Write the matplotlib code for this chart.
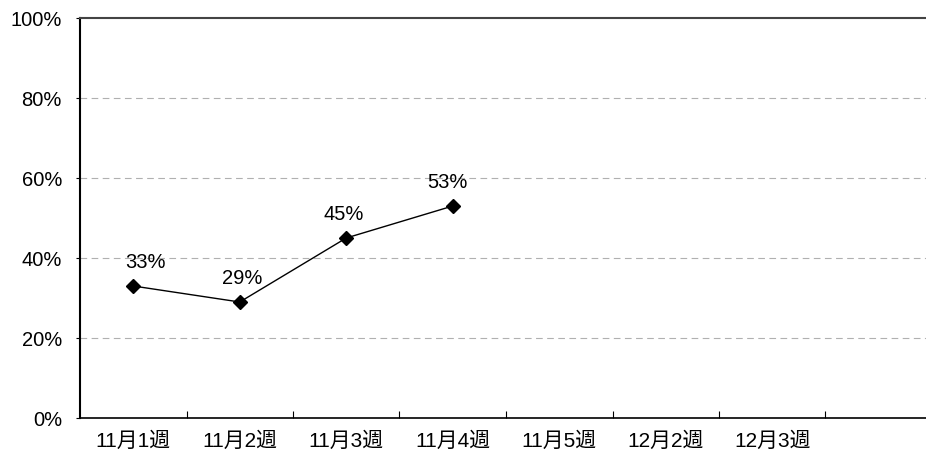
import numpy as np
import matplotlib.pyplot as plt
from matplotlib.ticker import FixedLocator

plt.rcParams['font.family'] = ['Liberation Sans', 'Noto Sans CJK JP']

weeks = ['11月1週', '11月2週', '11月3週', '11月4週', '11月5週', '12月2週', '12月3週']
rates = [33, 29, 45, 53]
yticks = [0, 20, 40, 60, 80, 100]

# label nudges (points), as in the original layout
label_dx = [9, 2, -2, -4]

fig = plt.figure(figsize=(9.26, 4.6), dpi=100)
W, H = 926, 460
ax = fig.add_axes([80 / W, 41 / H, (926 - 80) / W, (419 - 19) / H])

x = np.arange(len(rates))
ax.plot(x, rates, color='black', lw=1, marker='D', ms=7, mfc='black', mec='black', zorder=3)
for xi, v, dx in zip(x, rates, label_dx):
    ax.annotate(f'{v}%', (xi, v), xytext=(dx, 11), textcoords='offset points',
                ha='center', va='bottom', fontsize=14.5)

ax.set_xlim(-0.5, -0.5 + 846 / 106.5)
ax.set_ylim(0, 100)

ax.set_yticks(yticks)
ax.set_yticklabels([f'{t}%' for t in yticks], fontsize=14.5)
for t in yticks[1:-1]:
    ax.axhline(t, color='#b0b0b0', lw=0.8, ls=(0, (6, 4)), zorder=1)

ax.set_xticks(np.arange(len(weeks)))
ax.set_xticklabels(weeks, fontsize=15)
ax.tick_params(axis='x', which='major', length=0, pad=9)
ax.xaxis.set_minor_locator(FixedLocator(np.arange(0.5, len(weeks) + 0.5, 1)))
ax.tick_params(axis='x', which='minor', direction='in', length=5, width=0.8)
ax.tick_params(axis='y', direction='out', length=3, width=0.8, pad=10)

ax.spines['right'].set_visible(False)
ax.spines['top'].set_color('#444444')
ax.spines['top'].set_linewidth(1.5)
ax.spines['left'].set_linewidth(1.5)
ax.spines['bottom'].set_linewidth(1.2)

fig.savefig('out.png', dpi=100)
